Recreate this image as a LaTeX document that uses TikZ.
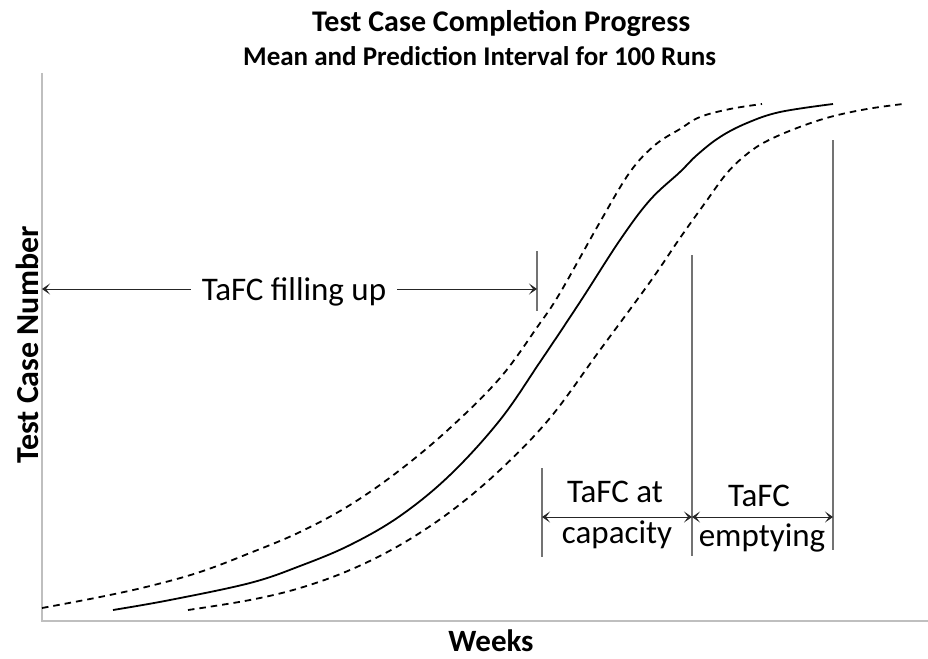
\documentclass[tikz,border=0pt]{standalone}
\usepackage{fontspec}
\setmainfont{Carlito}
\usetikzlibrary{arrows.meta}

\begin{document}
\begin{tikzpicture}[x=1pt,y=-1pt,
    axisline/.style={draw=black!25, line width=1.3pt},
    marker/.style={draw=black!55, line width=1.1pt},
    span/.style={{Stealth[length=8pt,width=11pt,inset=4pt]}-{Stealth[length=8pt,width=11pt,inset=4pt]}, line width=1pt, draw=black!85},
    oneway/.style={-{Stealth[length=8pt,width=11pt,inset=4pt]}, line width=1pt, draw=black!85},
    mean/.style={line width=1.8pt},
    band/.style={line width=1.8pt, dash pattern=on 6.5pt off 5pt},
    phase/.style={font=\fontsize{33}{35}\selectfont, inner sep=0pt}]

    \useasboundingbox (0,0) rectangle (928,658);

    % Titles
    \node[font=\fontsize{30}{32}\selectfont\bfseries, anchor=base west, inner sep=0pt] (title) at (312,32) {Test Case Completion Progress};
    \node[font=\fontsize{27}{29}\selectfont\bfseries, anchor=base west, inner sep=0pt] (subtitle) at (243,66) {Mean and Prediction Interval for 100 Runs};

    % Axes
    \coordinate (origin) at (42,621);
    \coordinate (ytop) at (42,73);
    \coordinate (xend) at (928,621);
    \draw[axisline] (ytop) -- (origin) -- (xend);
    \node[font=\fontsize{32}{34}\selectfont\bfseries, rotate=90, inner sep=0pt] (ylabel) at (27,345) {Test Case Number};
    \node[font=\fontsize{31}{33}\selectfont\bfseries, anchor=base, inner sep=0pt] (xlabel) at (491,651) {Weeks};

    % Prediction interval (dashed) and mean (solid)
    \draw[band] plot[smooth, tension=0.6] coordinates {
        (42,608) (100,597) (150,586) (200,572) (250,553) (300,532) (350,505)
        (400,470) (450,428) (500,378) (538,326) (560,293) (600,222) (630,172)
        (655,145) (680,129) (700,117) (730,109) (762,104)};
    \draw[mean] plot[smooth, tension=0.6] coordinates {
        (113,610) (170,600) (250,583) (300,566) (350,545) (400,516) (450,475)
        (500,420) (540,362) (580,302) (620,240) (650,200) (680,172) (697,155)
        (720,137) (747,123) (780,112) (833,104)};
    \draw[band] plot[smooth, tension=0.6] coordinates {
        (188,610) (250,600) (300,588) (350,570) (400,545) (450,512) (500,470)
        (550,418) (600,350) (650,282) (680,238) (705,203) (727,173) (747,154)
        (767,141) (797,128) (830,117) (867,109) (903,104)};

    % Phase boundaries
    \coordinate (fillTop) at (537,251);
    \coordinate (fillBot) at (537,311);
    \coordinate (capTop) at (542,468);
    \coordinate (capBot) at (542,557);
    \coordinate (fullTop) at (692,255);
    \coordinate (fullBot) at (692,556);
    \coordinate (emptyTop) at (833,140);
    \coordinate (emptyBot) at (833,550);
    \draw[marker] (fillTop) -- (fillBot);
    \draw[marker] (capTop) -- (capBot);
    \draw[marker] (fullTop) -- (fullBot);
    \draw[marker] (emptyTop) -- (emptyBot);

    % Filling up phase
    \node[phase, inner xsep=11pt] (fillup) at (294,292) {TaFC filling up};
    \draw[oneway] (fillup.west |- 0,289) -- (origin |- 0,289);
    \draw[oneway] (fillup.east |- 0,289) -- (fillTop |- 0,289);

    % At capacity and emptying phases
    \coordinate (capL) at (542,517);
    \coordinate (capR) at (692,517);
    \coordinate (emptyR) at (833,517);
    \draw[span] (capL) -- (capR);
    \draw[span] (capR) -- (emptyR);
    \node[phase] (atcap) at (615,492) {TaFC at};
    \node[phase] (capacity) at (617,535) {capacity};
    \node[phase] (tafc) at (759,496) {TaFC};
    \node[phase] (emptying) at (762,538) {emptying};
\end{tikzpicture}
\end{document}
